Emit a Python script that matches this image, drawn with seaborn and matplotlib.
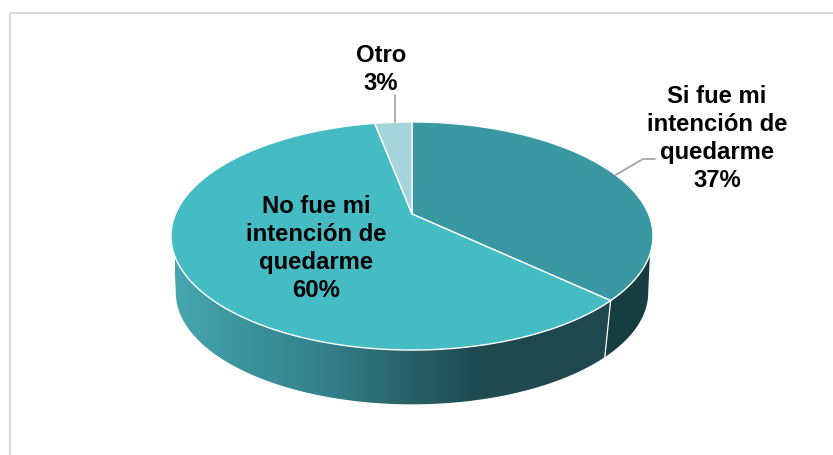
import numpy as np
import matplotlib
matplotlib.use("Agg")
import matplotlib.pyplot as plt
from matplotlib.patches import Polygon, Rectangle
import seaborn as sns

labels = ["Si fue mi\nintención de\nquedarme", "No fue mi\nintención de\nquedarme", "Otro"]
values = [37, 60, 3]
top_colors = ["#3a98a3", "#45bbc4", "#a5d4da"]

sns.set_theme(style="white")
plt.rcParams["font.family"] = ["Liberation Sans", "DejaVu Sans"]

cx, cy = 412, 214
depth = 57
shrink = 0.98
k = 0.193


def project(theta, bottom=False):
    # circle seen in perspective, theta clockwise from the top
    u, v = np.sin(theta), np.cos(theta)
    d = 1 + k * v
    x = 236.5 * u / d
    y = -109.8 * v / d
    if bottom:
        return cx + shrink * x, cy + depth + shrink * y
    return cx + x, cy + y


def arc(a, b, bottom=False, n=200):
    x, y = project(np.linspace(a, b, n), bottom)
    return np.column_stack([x, y])


fig, ax = plt.subplots(figsize=(8.33, 4.55), dpi=100)
fig.subplots_adjust(0, 0, 1, 1)
ax.set_axis_off()

ax.add_patch(Rectangle((10.5, 12.5), 900, 600, fill=False, ec="#d9d9d9", lw=1.5))

edges = 2 * np.pi * np.cumsum([0] + values) / sum(values)
sep_low = edges[1] + 0.012

# side wall of the big slice, dark to the right
wall = np.vstack([arc(edges[1], np.radians(250)), arc(np.radians(259), sep_low, bottom=True)])
wall_patch = Polygon(wall, closed=True, fc="none", ec="none")
ax.add_patch(wall_patch)
cmap = sns.blend_palette(["#46a6ae", "#3a939b", "#34808a", "#28656b", "#1f4b51", "#1f484e", "#1f484e"], as_cmap=True)
im = ax.imshow(np.linspace(0, 1, 450)[None, :], extent=(175, 625, 420, 200), cmap=cmap, aspect="auto", zorder=1)
im.set_clip_path(wall_patch)

# side wall of the 37% slice
wall2 = np.vstack([arc(np.radians(110), edges[1]), arc(sep_low, np.radians(101), bottom=True)])
ax.add_patch(Polygon(wall2, closed=True, fc="#163e41", ec="none", zorder=1))

# separator on the wall
x0, y0 = project(edges[1])
x1, y1 = project(sep_low, bottom=True)
ax.plot([x0, x1], [y0, y1], color="white", lw=0.9, zorder=2)

# top face
for i, color in enumerate(top_colors):
    pts = np.vstack([[cx, cy], arc(edges[i], edges[i + 1])])
    ax.add_patch(Polygon(pts, closed=True, fc=color, ec="white", lw=1.0, joinstyle="round", zorder=3))

# leader lines
mid_si = (edges[0] + edges[1]) / 2
mid_otro = (edges[2] + edges[3]) / 2
xs, ys = project(mid_si)
ax.plot([xs + 2, 643, 655], [ys + 1.5, 159, 159], color="#a6a6a6", lw=1.3, zorder=4)
xo, yo = project(mid_otro)
ax.plot([395, 395], [yo, 95], color="#a6a6a6", lw=1.3, zorder=4)

# labels
label_pos = [(717, 138.5), (316, 248.5), (381, 69.5)]
for name, val, (lx, ly) in zip(labels, values, label_pos):
    ax.text(lx, ly, f"{name}\n{val}%", ha="center", va="center", fontsize=17.2,
            fontweight="bold", color="black", linespacing=1.28, zorder=5)

ax.set_xlim(0, 833)
ax.set_ylim(455, 0)
fig.savefig("out.png", dpi=100, facecolor="white")
